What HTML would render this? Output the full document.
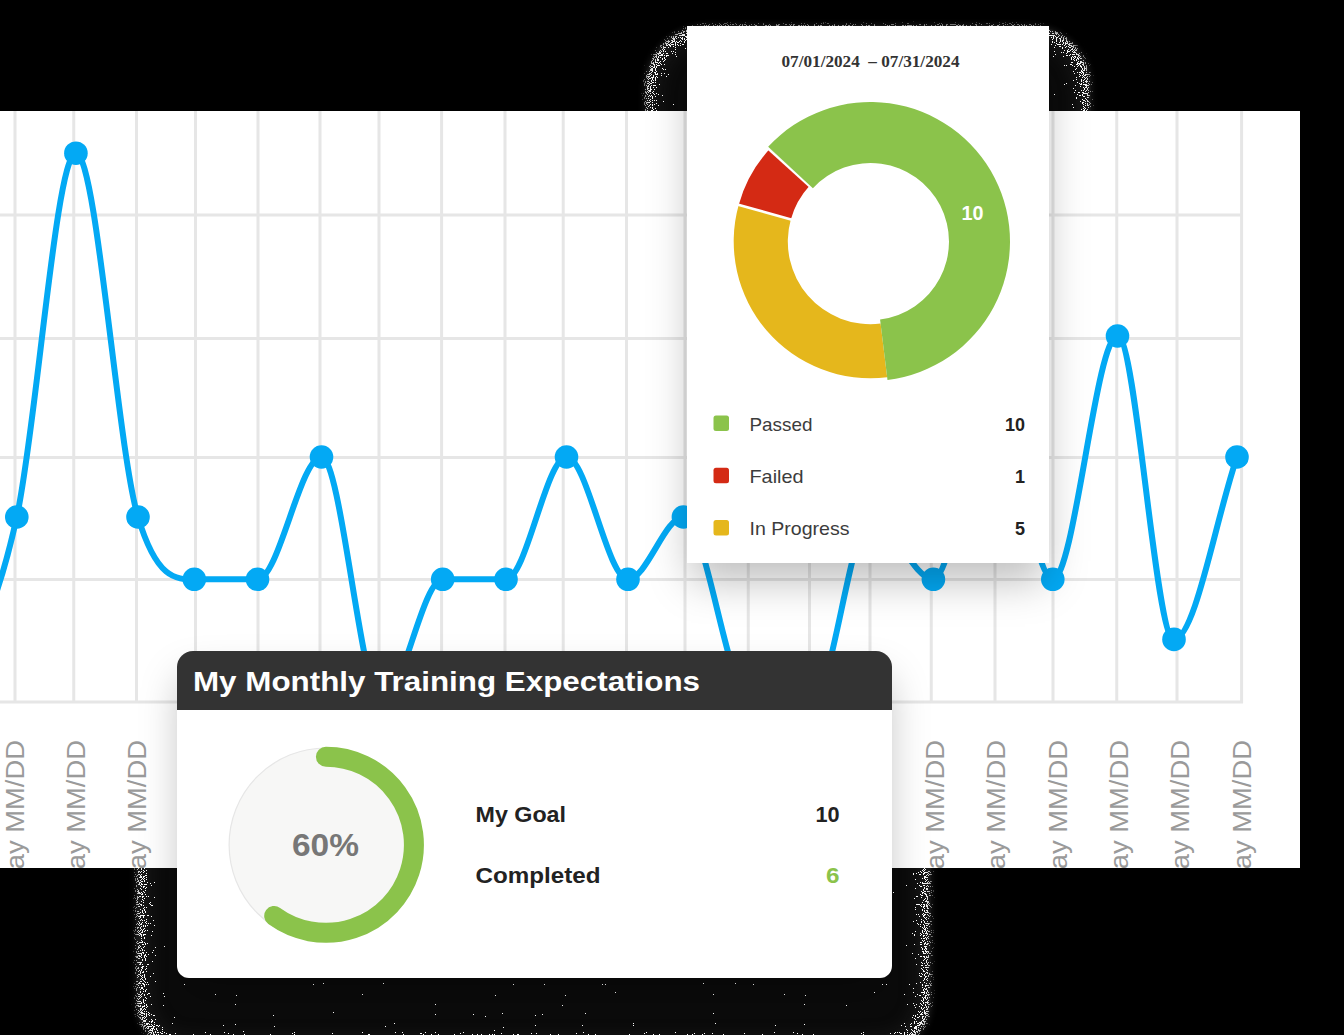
<!DOCTYPE html>
<html><head><meta charset="utf-8">
<style>
html,body{margin:0;padding:0;}
body{width:1344px;height:1035px;background:#000;position:relative;overflow:hidden;font-family:"Liberation Sans",sans-serif;}
.abs{position:absolute;}
#fx{left:0;top:0;}
#panel{left:0;top:111px;width:1300px;height:757px;background:#fff;overflow:hidden;}
#panel svg{position:absolute;left:0;top:-111px;}
#donut{left:687px;top:26px;width:362px;height:536.5px;background:#fff;box-shadow:0 22px 40px -4px rgba(0,0,0,0.26);}
#donut svg{position:absolute;left:-687px;top:-26px;}
#train{left:176.5px;top:651px;width:715.5px;height:326.5px;background:#fff;border-radius:16px 16px 12px 12px;box-shadow:0 22px 40px -4px rgba(0,0,0,0.26);overflow:hidden;}
#train .hd{position:absolute;left:0;top:0;width:716px;height:58.5px;background:#333;}
#train svg{position:absolute;left:-176.5px;top:-651px;}
</style></head><body>
<svg class="abs" id="fx" width="1344" height="1035" viewBox="0 0 1344 1035">
<defs>
<filter id="sp" x="-5%" y="-5%" width="110%" height="110%" color-interpolation-filters="sRGB">
<feGaussianBlur in="SourceAlpha" stdDeviation="3" result="soft"/>
<feGaussianBlur in="SourceAlpha" stdDeviation="14" result="b"/>
<feComposite in="soft" in2="b" operator="arithmetic" k1="-1" k2="1" k3="0" k4="0" result="band"/>
<feTurbulence type="fractalNoise" baseFrequency="0.9" numOctaves="1" seed="5" result="noise"/>
<feColorMatrix in="noise" type="matrix" values="0 0 0 0 0  0 0 0 0 0  0 0 0 0 0  1 0 0 0 0" result="na"/>
<feComposite in="band" in2="na" operator="arithmetic" k1="0" k2="0.7" k3="-1" k4="0.72" result="diff"/>
<feComponentTransfer in="diff" result="dots0"><feFuncA type="discrete" tableValues="0 1"/></feComponentTransfer>
<feComposite in="dots0" in2="soft" operator="in" result="dots"/>
<feFlood flood-color="#ffffff" result="w"/>
<feComposite in="w" in2="dots" operator="in" result="wd"/>
<feFlood flood-color="#3a3a3a" result="g"/>
<feComposite in="g" in2="band" operator="in" result="gb"/>
<feFlood flood-color="#0b0b0b" result="d"/>
<feComposite in="d" in2="SourceAlpha" operator="in" result="db"/>
<feMerge><feMergeNode in="db"/><feMergeNode in="gb"/><feMergeNode in="wd"/></feMerge>
</filter>
</defs>
<rect x="645" y="25" width="446" height="560" rx="62" fill="#000" filter="url(#sp)"/>
<rect x="136" y="620" width="795" height="432" rx="50" fill="#000" filter="url(#sp)"/>
</svg>
<div id="panel" class="abs">
<svg width="1344" height="1035" viewBox="0 0 1344 1035">
<g stroke="#e6e6e6" stroke-width="3"><line x1="15.00" y1="100" x2="15.00" y2="703"/><line x1="73.75" y1="100" x2="73.75" y2="703"/><line x1="136.50" y1="100" x2="136.50" y2="703"/><line x1="195.50" y1="100" x2="195.50" y2="703"/><line x1="258.00" y1="100" x2="258.00" y2="703"/><line x1="320.00" y1="100" x2="320.00" y2="703"/><line x1="379.00" y1="100" x2="379.00" y2="703"/><line x1="441.60" y1="100" x2="441.60" y2="703"/><line x1="505.00" y1="100" x2="505.00" y2="703"/><line x1="563.20" y1="100" x2="563.20" y2="703"/><line x1="626.50" y1="100" x2="626.50" y2="703"/><line x1="685.00" y1="100" x2="685.00" y2="703"/><line x1="748.25" y1="100" x2="748.25" y2="703"/><line x1="809.50" y1="100" x2="809.50" y2="703"/><line x1="870.00" y1="100" x2="870.00" y2="703"/><line x1="931.25" y1="100" x2="931.25" y2="703"/><line x1="995.00" y1="100" x2="995.00" y2="703"/><line x1="1053.00" y1="100" x2="1053.00" y2="703"/><line x1="1116.75" y1="100" x2="1116.75" y2="703"/><line x1="1177.00" y1="100" x2="1177.00" y2="703"/><line x1="1241.60" y1="100" x2="1241.60" y2="703"/><line x1="-10" y1="215.0" x2="1243" y2="215.0"/><line x1="-10" y1="338.5" x2="1243" y2="338.5"/><line x1="-10" y1="457.6" x2="1243" y2="457.6"/><line x1="-10" y1="579.5" x2="1243" y2="579.5"/><line x1="-10" y1="702.0" x2="1243" y2="702.0"/></g><path d="M-45.50,702.00 C-24.73,640.33 -3.97,611.75 16.80,517.00 C36.50,427.12 56.20,153.20 75.90,153.20 C96.60,153.20 117.30,448.28 138.00,517.00 C156.77,579.30 175.53,579.30 194.30,579.30 C215.37,579.30 236.43,579.30 257.50,579.30 C278.83,579.30 300.17,457.00 321.50,457.00 C341.50,457.00 361.50,702.00 381.50,702.00 C401.90,702.00 422.30,579.30 442.70,579.30 C463.80,579.30 484.90,579.30 506.00,579.30 C526.17,579.30 546.33,457.00 566.50,457.00 C587.00,457.00 607.50,579.30 628.00,579.30 C646.47,579.30 664.93,517.00 683.40,517.00 C705.93,517.00 728.47,702.00 751.00,702.00 C771.33,702.00 791.67,702.00 812.00,702.00 C831.67,702.00 851.33,517.00 871.00,517.00 C891.80,517.00 912.60,579.30 933.40,579.30 C953.27,579.30 973.13,397.00 993.00,397.00 C1012.93,397.00 1032.87,579.30 1052.80,579.30 C1074.37,579.30 1095.93,336.00 1117.50,336.00 C1136.33,336.00 1155.17,639.40 1174.00,639.40 C1195.00,639.40 1216.00,517.80 1237.00,457.00" fill="none" stroke="#03A9F4" stroke-width="6"/><g fill="#03A9F4"><circle cx="16.80" cy="517.00" r="11.8"/><circle cx="75.90" cy="153.20" r="11.8"/><circle cx="138.00" cy="517.00" r="11.8"/><circle cx="194.30" cy="579.30" r="11.8"/><circle cx="257.50" cy="579.30" r="11.8"/><circle cx="321.50" cy="457.00" r="11.8"/><circle cx="381.50" cy="702.00" r="11.8"/><circle cx="442.70" cy="579.30" r="11.8"/><circle cx="506.00" cy="579.30" r="11.8"/><circle cx="566.50" cy="457.00" r="11.8"/><circle cx="628.00" cy="579.30" r="11.8"/><circle cx="683.40" cy="517.00" r="11.8"/><circle cx="751.00" cy="702.00" r="11.8"/><circle cx="812.00" cy="702.00" r="11.8"/><circle cx="871.00" cy="517.00" r="11.8"/><circle cx="933.40" cy="579.30" r="11.8"/><circle cx="993.00" cy="397.00" r="11.8"/><circle cx="1052.80" cy="579.30" r="11.8"/><circle cx="1117.50" cy="336.00" r="11.8"/><circle cx="1174.00" cy="639.40" r="11.8"/><circle cx="1237.00" cy="457.00" r="11.8"/></g><g fill="#9a9a9a" font-family="Liberation Sans, sans-serif" font-size="25" text-anchor="end"><text transform="translate(23.60,740) rotate(-90)" textLength="149" lengthAdjust="spacingAndGlyphs">Day MM/DD</text><text transform="translate(84.95,740) rotate(-90)" textLength="149" lengthAdjust="spacingAndGlyphs">Day MM/DD</text><text transform="translate(146.30,740) rotate(-90)" textLength="149" lengthAdjust="spacingAndGlyphs">Day MM/DD</text><text transform="translate(207.65,740) rotate(-90)" textLength="149" lengthAdjust="spacingAndGlyphs">Day MM/DD</text><text transform="translate(269.00,740) rotate(-90)" textLength="149" lengthAdjust="spacingAndGlyphs">Day MM/DD</text><text transform="translate(330.35,740) rotate(-90)" textLength="149" lengthAdjust="spacingAndGlyphs">Day MM/DD</text><text transform="translate(391.70,740) rotate(-90)" textLength="149" lengthAdjust="spacingAndGlyphs">Day MM/DD</text><text transform="translate(453.05,740) rotate(-90)" textLength="149" lengthAdjust="spacingAndGlyphs">Day MM/DD</text><text transform="translate(514.40,740) rotate(-90)" textLength="149" lengthAdjust="spacingAndGlyphs">Day MM/DD</text><text transform="translate(575.75,740) rotate(-90)" textLength="149" lengthAdjust="spacingAndGlyphs">Day MM/DD</text><text transform="translate(637.10,740) rotate(-90)" textLength="149" lengthAdjust="spacingAndGlyphs">Day MM/DD</text><text transform="translate(698.45,740) rotate(-90)" textLength="149" lengthAdjust="spacingAndGlyphs">Day MM/DD</text><text transform="translate(759.80,740) rotate(-90)" textLength="149" lengthAdjust="spacingAndGlyphs">Day MM/DD</text><text transform="translate(821.15,740) rotate(-90)" textLength="149" lengthAdjust="spacingAndGlyphs">Day MM/DD</text><text transform="translate(882.50,740) rotate(-90)" textLength="149" lengthAdjust="spacingAndGlyphs">Day MM/DD</text><text transform="translate(943.85,740) rotate(-90)" textLength="149" lengthAdjust="spacingAndGlyphs">Day MM/DD</text><text transform="translate(1005.20,740) rotate(-90)" textLength="149" lengthAdjust="spacingAndGlyphs">Day MM/DD</text><text transform="translate(1066.55,740) rotate(-90)" textLength="149" lengthAdjust="spacingAndGlyphs">Day MM/DD</text><text transform="translate(1127.90,740) rotate(-90)" textLength="149" lengthAdjust="spacingAndGlyphs">Day MM/DD</text><text transform="translate(1189.25,740) rotate(-90)" textLength="149" lengthAdjust="spacingAndGlyphs">Day MM/DD</text><text transform="translate(1250.60,740) rotate(-90)" textLength="149" lengthAdjust="spacingAndGlyphs">Day MM/DD</text></g>
</svg>
</div>
<div id="donut" class="abs">
<svg width="1344" height="1035" viewBox="0 0 1344 1035">
<text x="870.5" y="67.3" font-family="Liberation Serif, serif" font-size="16" font-weight="bold" fill="#333" text-anchor="middle" textLength="178" lengthAdjust="spacingAndGlyphs">07/01/2024 &#160;&#8211; 07/31/2024</text><path fill="#E5B71C" d="M887.17,377.28 A136.80,136.80 0 0 1 738.68,204.94 L790.81,219.40 A82.70,82.70 0 0 0 880.58,323.58 Z"/><path fill="#D42A14" d="M738.68,204.94 A136.80,136.80 0 0 1 769.64,149.08 L809.53,185.63 A82.70,82.70 0 0 0 790.81,219.40 Z"/><line x1="798.23" y1="221.46" x2="733.66" y2="203.55" stroke="#fff" stroke-width="2.6"/><line x1="814.94" y1="191.12" x2="765.31" y2="146.12" stroke="#fff" stroke-width="2.2"/><path fill="#8BC34B" d="M768.14,146.72 A139.50,139.50 0 1 1 887.50,379.96 L880.07,319.41 A78.50,78.50 0 1 0 812.90,188.16 Z"/><text x="972.4" y="219.5" font-family="Liberation Sans, sans-serif" font-size="20" font-weight="bold" fill="#fff" text-anchor="middle" textLength="22" lengthAdjust="spacingAndGlyphs">10</text><rect x="713.5" y="415.5" width="15.5" height="15.5" rx="2.5" fill="#8BC34B"/><rect x="713.5" y="467.8" width="15.5" height="15.5" rx="2.5" fill="#D42A14"/><rect x="713.5" y="520" width="15.5" height="15.5" rx="2.5" fill="#E5B71C"/><text x="749.5" y="430.7" font-family="Liberation Sans, sans-serif" font-size="19" font-weight="normal" fill="#3c3c3c" text-anchor="start" textLength="63" lengthAdjust="spacingAndGlyphs">Passed</text><text x="749.5" y="483" font-family="Liberation Sans, sans-serif" font-size="19" font-weight="normal" fill="#3c3c3c" text-anchor="start" textLength="54" lengthAdjust="spacingAndGlyphs">Failed</text><text x="749.5" y="535.3" font-family="Liberation Sans, sans-serif" font-size="19" font-weight="normal" fill="#3c3c3c" text-anchor="start" textLength="100" lengthAdjust="spacingAndGlyphs">In Progress</text><text x="1025" y="430.7" font-family="Liberation Sans, sans-serif" font-size="18" font-weight="bold" fill="#222" text-anchor="end">10</text><text x="1025" y="483" font-family="Liberation Sans, sans-serif" font-size="18" font-weight="bold" fill="#222" text-anchor="end">1</text><text x="1025" y="535.3" font-family="Liberation Sans, sans-serif" font-size="18" font-weight="bold" fill="#222" text-anchor="end">5</text>
</svg>
</div>
<div id="train" class="abs">
<div class="hd"></div>
<svg width="1344" height="1035" viewBox="0 0 1344 1035">
<text x="193" y="690.8" font-family="Liberation Sans, sans-serif" font-size="28.5" font-weight="bold" fill="#fff" text-anchor="start" textLength="507" lengthAdjust="spacingAndGlyphs">My Monthly Training Expectations</text><circle cx="325.9" cy="844.8" r="96.8" fill="#f7f7f6" stroke="#e6e6e6" stroke-width="1.2"/><path d="M325.9,756.8 A88,88 0 1 1 274.2,916" fill="none" stroke="#8BC34B" stroke-width="20" stroke-linecap="round"/><text x="292" y="855.6" font-family="Liberation Sans, sans-serif" font-size="31.5" font-weight="bold" fill="#777" text-anchor="start" textLength="67" lengthAdjust="spacingAndGlyphs">60%</text><text x="475.5" y="822.1" font-family="Liberation Sans, sans-serif" font-size="21.7" font-weight="bold" fill="#222" text-anchor="start" textLength="90.5" lengthAdjust="spacingAndGlyphs">My Goal</text><text x="475.5" y="882.8" font-family="Liberation Sans, sans-serif" font-size="21.7" font-weight="bold" fill="#222" text-anchor="start" textLength="125" lengthAdjust="spacingAndGlyphs">Completed</text><text x="839.5" y="822.1" font-family="Liberation Sans, sans-serif" font-size="21.7" font-weight="bold" fill="#222" text-anchor="end">10</text><text x="839.5" y="882.8" font-family="Liberation Sans, sans-serif" font-size="21.7" font-weight="bold" fill="#8BC34B" text-anchor="end" textLength="13.5" lengthAdjust="spacingAndGlyphs">6</text>
</svg>
</div>
</body></html>
